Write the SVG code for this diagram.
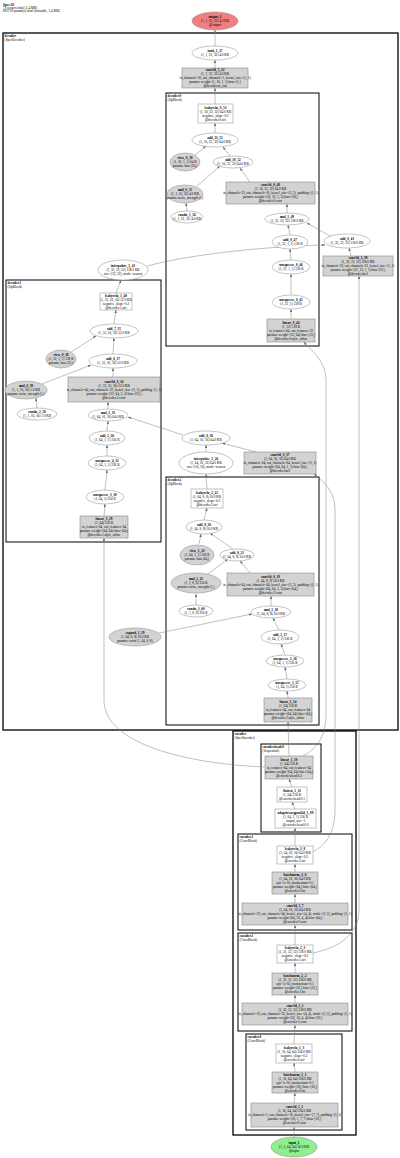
<svg xmlns="http://www.w3.org/2000/svg" width="400" height="1158" viewBox="0 0 400 1158">
<style>
.el{fill:#fff;stroke:#888;stroke-width:0.5}
.gel{fill:#d3d3d3;stroke:#888;stroke-width:0.5}
.bx{fill:#fff;stroke:#888;stroke-width:0.5}
.gbx{fill:#d3d3d3;stroke:#888;stroke-width:0.6}
.cl{fill:none;stroke:#000;stroke-width:1}
.clo{fill:none;stroke:#000;stroke-width:1.3}
.t{font-family:"Liberation Serif","DejaVu Serif",serif;font-size:3.4px;text-anchor:middle;fill:#000}
.l{font-family:"Liberation Serif","DejaVu Serif",serif;font-size:3.4px;text-anchor:start;fill:#000}
.b{font-weight:bold}
.e{fill:none;stroke:#808080;stroke-width:0.5;marker-end:url(#a)}
</style>
<defs>
<marker id="a" markerUnits="userSpaceOnUse" markerWidth="3" markerHeight="2.4" refX="3" refY="1.2" orient="auto">
<path d="M0,0 L3,1.2 L0,2.4 z" fill="#666"/>
</marker>
</defs>
<rect width="400" height="1158" fill="#fff"/>
<g id="title">
<text class="l" x="3" y="5.5"><tspan class="b">SpecAE</tspan><tspan x="3" dy="3.4">71 tensors total (1.4 MB)</tspan><tspan x="3" dy="3.4">895739 param(s) total (trainable, 3.4 MB)</tspan></text>
</g>
<g id="clusters">
<g id="cluster-decoder"><rect class="clo" x="3" y="33" width="395" height="697"/><text class="l" x="4.5" y="37"><tspan class="b">decoder</tspan><tspan x="4.5" dy="3.5">(SpecDecoder)</tspan></text></g>
<g id="cluster-decoder.0"><rect class="cl" x="166" y="93" width="153" height="253"/><text class="l" x="167.5" y="97"><tspan class="b">decoder.0</tspan><tspan x="167.5" dy="3.5">(UpBlock)</tspan></text></g>
<g id="cluster-decoder.1"><rect class="cl" x="6" y="280" width="155" height="262"/><text class="l" x="7.5" y="284"><tspan class="b">decoder.1</tspan><tspan x="7.5" dy="3.5">(UpBlock)</tspan></text></g>
<g id="cluster-decoder.2"><rect class="cl" x="166" y="477" width="153" height="248"/><text class="l" x="167.5" y="481"><tspan class="b">decoder.2</tspan><tspan x="167.5" dy="3.5">(UpBlock)</tspan></text></g>
<g id="cluster-encoder"><rect class="clo" x="233" y="731" width="123" height="404"/><text class="l" x="234.5" y="735"><tspan class="b">encoder</tspan><tspan x="234.5" dy="3.5">(SpecEncoder)</tspan></text></g>
<g id="cluster-encoder.head.0"><rect class="cl" x="261" y="744" width="60" height="88"/><text class="l" x="262.5" y="748"><tspan class="b">encoder.head.0</tspan><tspan x="262.5" dy="3.5">(Sequential)</tspan></text></g>
<g id="cluster-encoder.2"><rect class="cl" x="238" y="834" width="114" height="96"/><text class="l" x="239.5" y="838"><tspan class="b">encoder.2</tspan><tspan x="239.5" dy="3.5">(ConvBlock)</tspan></text></g>
<g id="cluster-encoder.1"><rect class="cl" x="238" y="933" width="114" height="98"/><text class="l" x="239.5" y="937"><tspan class="b">encoder.1</tspan><tspan x="239.5" dy="3.5">(ConvBlock)</tspan></text></g>
<g id="cluster-encoder.0"><rect class="cl" x="246" y="1034" width="96" height="96"/><text class="l" x="247.5" y="1038"><tspan class="b">encoder.0</tspan><tspan x="247.5" dy="3.5">(ConvBlock)</tspan></text></g>
</g>
<g id="connectors">
<path class="e" d="M294,1137 L294,1127"/>
<path class="e" d="M294,1103 L295,1093"/>
<path class="e" d="M295,1072 L294,1063"/>
<path class="e" d="M294,1044 L295,1025"/>
<path class="e" d="M295,1003 L295,995"/>
<path class="e" d="M295,973 L295,963"/>
<path class="e" d="M295,945 L295,925"/>
<path class="e" d="M295,903 L295,894"/>
<path class="e" d="M295,872 L295,864"/>
<path class="e" d="M295,846 L295,828"/>
<path class="e" d="M295,809 L292,802"/>
<path class="e" d="M292,787 L289,779"/>
<path class="e" d="M289,756 L288,722"/>
<path class="e" d="M303,756 C318,748 326,735 326,715 L326,380 C326,360 310,350 304,342"/>
<path class="e" d="M265,767 C190,764 104,745 104,700 L104,538"/>
<path class="e" d="M312,852 C326,846 335,832 335,810 L335,510 C335,490 322,480 314,474"/>
<path class="e" d="M313,953 C338,948 359,935 359,910 L359,276"/>
<path class="e" d="M288,698 L287,691"/>
<path class="e" d="M287,679 L285,667"/>
<path class="e" d="M285,655 L281,644"/>
<path class="e" d="M279,630 L273,618"/>
<path class="e" d="M159,633 L252,614"/>
<path class="e" d="M271,606 L271,596"/>
<path class="e" d="M250,573 L240,561"/>
<path class="e" d="M196,605 L196,594"/>
<path class="e" d="M208,574 L228,559"/>
<path class="e" d="M233,549 L210,533"/>
<path class="e" d="M199,544 L201,534"/>
<path class="e" d="M204,520 L207,508"/>
<path class="e" d="M207,489 L206,474"/>
<path class="e" d="M206,452 L206,445"/>
<path class="e" d="M256,452 L222,443"/>
<path class="e" d="M183,435 L128,417"/>
<path class="e" d="M104,516 L105,504"/>
<path class="e" d="M105,490 L107,470"/>
<path class="e" d="M107,456 L107,445"/>
<path class="e" d="M107,431 L108,421"/>
<path class="e" d="M108,409 L108,402"/>
<path class="e" d="M37,408 L36,398"/>
<path class="e" d="M113,377 L113,368"/>
<path class="e" d="M42,384 L91,365"/>
<path class="e" d="M113,354 L114,338"/>
<path class="e" d="M71,352 L96,336"/>
<path class="e" d="M114,324 L116,310"/>
<path class="e" d="M116,293 L121,280"/>
<path class="e" d="M147,266 C200,252 280,246 325,245"/>
<path class="e" d="M351,256 L349,248"/>
<path class="e" d="M330,236 L307,223"/>
<path class="e" d="M291,319 L291,309"/>
<path class="e" d="M291,295 L291,274"/>
<path class="e" d="M291,260 L290,249"/>
<path class="e" d="M290,235 L288,225"/>
<path class="e" d="M287,213 L287,204"/>
<path class="e" d="M250,182 L240,168"/>
<path class="e" d="M187,211 L186,203"/>
<path class="e" d="M197,186 L220,166"/>
<path class="e" d="M230,156 L223,147"/>
<path class="e" d="M195,155 L206,146"/>
<path class="e" d="M215,133 L215,123"/>
<path class="e" d="M215,104 L215,88"/>
<path class="e" d="M215,68 L215,60"/>
<path class="e" d="M215,46 L215,30"/>
</g>
<g id="node-output_1"><ellipse cx="215" cy="21" rx="23" ry="9" fill="#f08080" stroke="#888" stroke-width="0.5"/><text class="t" x="215" y="18.3"><tspan class="b">output_1</tspan><tspan x="215" dy="3.9">(1, 1, 32, 32) 4.0 KB</tspan><tspan x="215" dy="3.9">@output</tspan></text></g>
<g id="node-tanh_1_27"><ellipse class="el" cx="215" cy="53" rx="23" ry="7"/><text class="t" x="215" y="52.25"><tspan class="b">tanh_1_27</tspan><tspan x="215" dy="3.9">(1, 1, 32, 32) 4.0 KB</tspan></text></g>
<g id="node-conv3d_1_32"><rect class="gbx" x="182" y="68" width="66" height="20"/><text class="t" x="215" y="71.4"><tspan class="b">conv3d_1_32</tspan><tspan x="215" dy="3.9">(1, 1, 32, 32) 4.0 KB</tspan><tspan x="215" dy="3.9">in_channels=16, out_channels=1, kernel_size=(1, 1)</tspan><tspan x="215" dy="3.9">params: weight=(1, 16, 1, 1) bias=(1,)</tspan><tspan x="215" dy="3.9">@decoder.to_out</tspan></text></g>
<g id="node-leakyrelu_0_53"><rect class="bx" x="198" y="104" width="35" height="19"/><text class="t" x="215.5" y="108.85"><tspan class="b">leakyrelu_0_53</tspan><tspan x="215.5" dy="3.9">(1, 16, 32, 32) 64.0 KB</tspan><tspan x="215.5" dy="3.9">negative_slope=0.2</tspan><tspan x="215.5" dy="3.9">@decoder.0.act</tspan></text></g>
<g id="node-add_11_51"><ellipse class="el" cx="215" cy="140" rx="23" ry="7"/><text class="t" x="215" y="139.25"><tspan class="b">add_11_51</tspan><tspan x="215" dy="3.9">(1, 16, 32, 32) 64.0 KB</tspan></text></g>
<g id="node-view_0_50"><ellipse class="gel" cx="185" cy="162" rx="15" ry="9"/><text class="t" x="185" y="159.3"><tspan class="b">view_0_50</tspan><tspan x="185" dy="3.9">(1, 16, 1, 1) 64 B</tspan><tspan x="185" dy="3.9">params: bias (16,)</tspan></text></g>
<g id="node-add_10_52"><ellipse class="el" cx="233" cy="162" rx="20" ry="6"/><text class="t" x="233" y="161.25"><tspan class="b">add_10_52</tspan><tspan x="233" dy="3.9">(1, 16, 32, 32) 64.0 KB</tspan></text></g>
<g id="node-mul_0_55"><ellipse class="gel" cx="185" cy="194" rx="18" ry="9"/><text class="t" x="185" y="191.3"><tspan class="b">mul_0_55</tspan><tspan x="185" dy="3.9">(1, 1, 32, 32) 4.0 KB</tspan><tspan x="185" dy="3.9">params: noise_strength (1,)</tspan></text></g>
<g id="node-conv3d_0_48"><rect class="gbx" x="226" y="182" width="89" height="22"/><text class="t" x="270.5" y="186.4"><tspan class="b">conv3d_0_48</tspan><tspan x="270.5" dy="3.9">(1, 16, 32, 32) 64.0 KB</tspan><tspan x="270.5" dy="3.9">in_channels=32, out_channels=16, kernel_size=(3, 3), padding=(1, 1)</tspan><tspan x="270.5" dy="3.9">params: weight=(16, 32, 3, 3) bias=(16,)</tspan><tspan x="270.5" dy="3.9">@decoder.0.conv</tspan></text></g>
<g id="node-randn_1_56"><ellipse class="el" cx="187" cy="217" rx="16" ry="6"/><text class="t" x="187" y="216.25"><tspan class="b">randn_1_56</tspan><tspan x="187" dy="3.9">(1, 1, 32, 32) 4.0 KB</tspan></text></g>
<g id="node-mul_1_49"><ellipse class="el" cx="287" cy="219" rx="22" ry="6"/><text class="t" x="287" y="218.25"><tspan class="b">mul_1_49</tspan><tspan x="287" dy="3.9">(1, 32, 32, 32) 128.0 KB</tspan></text></g>
<g id="node-add_0_47"><ellipse class="el" cx="290" cy="242" rx="18" ry="7"/><text class="t" x="290" y="241.25"><tspan class="b">add_0_47</tspan><tspan x="290" dy="3.9">(1, 32, 1, 1) 128 B</tspan></text></g>
<g id="node-unsqueeze_0_46"><ellipse class="el" cx="291" cy="267" rx="19" ry="7"/><text class="t" x="291" y="266.25"><tspan class="b">unsqueeze_0_46</tspan><tspan x="291" dy="3.9">(1, 32, 1, 1) 128 B</tspan></text></g>
<g id="node-unsqueeze_0_45"><ellipse class="el" cx="291" cy="302" rx="19" ry="7"/><text class="t" x="291" y="301.25"><tspan class="b">unsqueeze_0_45</tspan><tspan x="291" dy="3.9">(1, 32, 1) 128 B</tspan></text></g>
<g id="node-linear_0_44"><rect class="gbx" x="267" y="319" width="48" height="23"/><text class="t" x="291" y="323.9"><tspan class="b">linear_0_44</tspan><tspan x="291" dy="3.9">(1, 32) 128 B</tspan><tspan x="291" dy="3.9">in_features=64, out_features=32</tspan><tspan x="291" dy="3.9">params: weight=(32, 64) bias=(32,)</tspan><tspan x="291" dy="3.9">@decoder.0.style_affine</tspan></text></g>
<g id="node-add_0_43"><ellipse class="el" cx="347" cy="241" rx="23" ry="7"/><text class="t" x="347" y="240.25"><tspan class="b">add_0_43</tspan><tspan x="347" dy="3.9">(1, 32, 32, 32) 128.0 KB</tspan></text></g>
<g id="node-conv3d_1_38"><rect class="gbx" x="323" y="256" width="70" height="20"/><text class="t" x="358" y="259.4"><tspan class="b">conv3d_1_38</tspan><tspan x="358" dy="3.9">(1, 32, 32, 32) 128.0 KB</tspan><tspan x="358" dy="3.9">in_channels=32, out_channels=32, kernel_size=(1, 1)</tspan><tspan x="358" dy="3.9">params: weight=(32, 32, 1, 1) bias=(32,)</tspan><tspan x="358" dy="3.9">@decoder.lat.1</tspan></text></g>
<g id="node-interpolate_1_41"><ellipse class="el" cx="123" cy="270" rx="25" ry="10"/><text class="t" x="123" y="267.3"><tspan class="b">interpolate_1_41</tspan><tspan x="123" dy="3.9">(1, 32, 32, 32) 128.0 KB</tspan><tspan x="123" dy="3.9">size=(32, 32), mode=nearest</tspan></text></g>
<g id="node-leakyrelu_1_40"><rect class="bx" x="100" y="293" width="32" height="17"/><text class="t" x="116" y="296.85"><tspan class="b">leakyrelu_1_40</tspan><tspan x="116" dy="3.9">(1, 32, 16, 16) 32.0 KB</tspan><tspan x="116" dy="3.9">negative_slope=0.2</tspan><tspan x="116" dy="3.9">@decoder.1.act</tspan></text></g>
<g id="node-add_7_35"><ellipse class="el" cx="114" cy="331" rx="24" ry="7"/><text class="t" x="114" y="330.25"><tspan class="b">add_7_35</tspan><tspan x="114" dy="3.9">(1, 32, 16, 16) 32.0 KB</tspan></text></g>
<g id="node-view_0_38"><ellipse class="gel" cx="61" cy="359" rx="15" ry="9"/><text class="t" x="61" y="356.3"><tspan class="b">view_0_38</tspan><tspan x="61" dy="3.9">(1, 32, 1, 1) 128 B</tspan><tspan x="61" dy="3.9">params: bias (32,)</tspan></text></g>
<g id="node-add_6_37"><ellipse class="el" cx="113" cy="361" rx="24" ry="7"/><text class="t" x="113" y="360.25"><tspan class="b">add_6_37</tspan><tspan x="113" dy="3.9">(1, 32, 16, 16) 32.0 KB</tspan></text></g>
<g id="node-mul_0_39"><ellipse class="gel" cx="26" cy="390" rx="21" ry="9"/><text class="t" x="26" y="387.3"><tspan class="b">mul_0_39</tspan><tspan x="26" dy="3.9">(1, 1, 16, 16) 1.0 KB</tspan><tspan x="26" dy="3.9">params: noise_strength (1,)</tspan></text></g>
<g id="node-conv3d_0_34"><rect class="gbx" x="68" y="377" width="92" height="25"/><text class="t" x="114" y="382.9"><tspan class="b">conv3d_0_34</tspan><tspan x="114" dy="3.9">(1, 32, 16, 16) 32.0 KB</tspan><tspan x="114" dy="3.9">in_channels=64, out_channels=32, kernel_size=(3, 3), padding=(1, 1)</tspan><tspan x="114" dy="3.9">params: weight=(32, 64, 3, 3) bias=(32,)</tspan><tspan x="114" dy="3.9">@decoder.1.conv</tspan></text></g>
<g id="node-randn_2_58"><ellipse class="el" cx="37" cy="414" rx="20" ry="6"/><text class="t" x="37" y="413.25"><tspan class="b">randn_2_58</tspan><tspan x="37" dy="3.9">(1, 1, 16, 16) 1.0 KB</tspan></text></g>
<g id="node-mul_1_33"><ellipse class="el" cx="108" cy="415" rx="20" ry="6"/><text class="t" x="108" y="414.25"><tspan class="b">mul_1_33</tspan><tspan x="108" dy="3.9">(1, 64, 16, 16) 64.0 KB</tspan></text></g>
<g id="node-add_5_36"><ellipse class="el" cx="107" cy="438" rx="18" ry="7"/><text class="t" x="107" y="437.25"><tspan class="b">add_5_36</tspan><tspan x="107" dy="3.9">(1, 64, 1, 1) 256 B</tspan></text></g>
<g id="node-unsqueeze_4_31"><ellipse class="el" cx="107" cy="463" rx="19" ry="7"/><text class="t" x="107" y="462.25"><tspan class="b">unsqueeze_4_31</tspan><tspan x="107" dy="3.9">(1, 64, 1, 1) 256 B</tspan></text></g>
<g id="node-unsqueeze_3_30"><ellipse class="el" cx="105" cy="497" rx="19" ry="7"/><text class="t" x="105" y="496.25"><tspan class="b">unsqueeze_3_30</tspan><tspan x="105" dy="3.9">(1, 64, 1) 256 B</tspan></text></g>
<g id="node-linear_3_29"><rect class="gbx" x="80" y="516" width="48" height="22"/><text class="t" x="104" y="520.4"><tspan class="b">linear_3_29</tspan><tspan x="104" dy="3.9">(1, 64) 256 B</tspan><tspan x="104" dy="3.9">in_features=64, out_features=64</tspan><tspan x="104" dy="3.9">params: weight=(64, 64) bias=(64,)</tspan><tspan x="104" dy="3.9">@decoder.1.style_affine</tspan></text></g>
<g id="node-add_0_36"><ellipse class="el" cx="206" cy="438" rx="24" ry="7"/><text class="t" x="206" y="437.25"><tspan class="b">add_0_36</tspan><tspan x="206" dy="3.9">(1, 64, 16, 16) 64.0 KB</tspan></text></g>
<g id="node-conv3d_0_37"><rect class="gbx" x="244" y="452" width="72" height="22"/><text class="t" x="280" y="456.4"><tspan class="b">conv3d_0_37</tspan><tspan x="280" dy="3.9">(1, 64, 16, 16) 64.0 KB</tspan><tspan x="280" dy="3.9">in_channels=64, out_channels=64, kernel_size=(1, 1)</tspan><tspan x="280" dy="3.9">params: weight=(64, 64, 1, 1) bias=(64,)</tspan><tspan x="280" dy="3.9">@decoder.lat.0</tspan></text></g>
<g id="node-interpolate_1_26"><ellipse class="el" cx="206" cy="463" rx="27" ry="11"/><text class="t" x="206" y="460.3"><tspan class="b">interpolate_1_26</tspan><tspan x="206" dy="3.9">(1, 64, 16, 16) 64.0 KB</tspan><tspan x="206" dy="3.9">size=(16, 16), mode=nearest</tspan></text></g>
<g id="node-leakyrelu_2_22"><rect class="bx" x="191" y="489" width="32" height="19"/><text class="t" x="207" y="493.85"><tspan class="b">leakyrelu_2_22</tspan><tspan x="207" dy="3.9">(1, 64, 8, 8) 16.0 KB</tspan><tspan x="207" dy="3.9">negative_slope=0.2</tspan><tspan x="207" dy="3.9">@decoder.2.act</tspan></text></g>
<g id="node-add_9_20"><ellipse class="el" cx="204" cy="527" rx="18" ry="7"/><text class="t" x="204" y="526.25"><tspan class="b">add_9_20</tspan><tspan x="204" dy="3.9">(1, 64, 8, 8) 16.0 KB</tspan></text></g>
<g id="node-view_1_23"><ellipse class="gel" cx="197" cy="555" rx="17" ry="10"/><text class="t" x="197" y="552.3"><tspan class="b">view_1_23</tspan><tspan x="197" dy="3.9">(1, 64, 1, 1) 256 B</tspan><tspan x="197" dy="3.9">params: bias (64,)</tspan></text></g>
<g id="node-add_8_21"><ellipse class="el" cx="237" cy="555" rx="17" ry="6"/><text class="t" x="237" y="554.25"><tspan class="b">add_8_21</tspan><tspan x="237" dy="3.9">(1, 64, 8, 8) 16.0 KB</tspan></text></g>
<g id="node-mul_2_21"><ellipse class="gel" cx="196" cy="583" rx="25" ry="10"/><text class="t" x="196" y="580.3"><tspan class="b">mul_2_21</tspan><tspan x="196" dy="3.9">(1, 1, 8, 8) 256 B</tspan><tspan x="196" dy="3.9">params: noise_strength (1,)</tspan></text></g>
<g id="node-conv3d_0_19"><rect class="gbx" x="227" y="573" width="87" height="23"/><text class="t" x="270.5" y="577.9"><tspan class="b">conv3d_0_19</tspan><tspan x="270.5" dy="3.9">(1, 64, 8, 8) 16.0 KB</tspan><tspan x="270.5" dy="3.9">in_channels=64, out_channels=64, kernel_size=(3, 3), padding=(1, 1)</tspan><tspan x="270.5" dy="3.9">params: weight=(64, 64, 3, 3) bias=(64,)</tspan><tspan x="270.5" dy="3.9">@decoder.2.conv</tspan></text></g>
<g id="node-randn_1_60"><ellipse class="el" cx="196" cy="611" rx="17" ry="6"/><text class="t" x="196" y="610.25"><tspan class="b">randn_1_60</tspan><tspan x="196" dy="3.9">(1, 1, 8, 8) 256 B</tspan></text></g>
<g id="node-mul_1_18"><ellipse class="el" cx="271" cy="612" rx="20" ry="6"/><text class="t" x="271" y="611.25"><tspan class="b">mul_1_18</tspan><tspan x="271" dy="3.9">(1, 64, 8, 8) 16.0 KB</tspan></text></g>
<g id="node-expand_1_19"><ellipse class="gel" cx="135" cy="637" rx="26" ry="9"/><text class="t" x="135" y="634.3"><tspan class="b">expand_1_19</tspan><tspan x="135" dy="3.9">(1, 64, 8, 8) 16.0 KB</tspan><tspan x="135" dy="3.9">params: const (1, 64, 8, 8)</tspan></text></g>
<g id="node-add_1_17"><ellipse class="el" cx="280" cy="637" rx="19" ry="7"/><text class="t" x="280" y="636.25"><tspan class="b">add_1_17</tspan><tspan x="280" dy="3.9">(1, 64, 1, 1) 256 B</tspan></text></g>
<g id="node-unsqueeze_1_16"><ellipse class="el" cx="285" cy="661" rx="19" ry="6"/><text class="t" x="285" y="660.25"><tspan class="b">unsqueeze_1_16</tspan><tspan x="285" dy="3.9">(1, 64, 1, 1) 256 B</tspan></text></g>
<g id="node-unsqueeze_1_15"><ellipse class="el" cx="287" cy="685" rx="19" ry="6"/><text class="t" x="287" y="684.25"><tspan class="b">unsqueeze_1_15</tspan><tspan x="287" dy="3.9">(1, 64, 1) 256 B</tspan></text></g>
<g id="node-linear_1_14"><rect class="gbx" x="264" y="698" width="48" height="24"/><text class="t" x="288" y="703.4"><tspan class="b">linear_1_14</tspan><tspan x="288" dy="3.9">(1, 64) 256 B</tspan><tspan x="288" dy="3.9">in_features=64, out_features=64</tspan><tspan x="288" dy="3.9">params: weight=(64, 64) bias=(64,)</tspan><tspan x="288" dy="3.9">@decoder.2.style_affine</tspan></text></g>
<g id="node-linear_1_10"><rect class="gbx" x="265" y="756" width="48" height="23"/><text class="t" x="289" y="760.9"><tspan class="b">linear_1_10</tspan><tspan x="289" dy="3.9">(1, 64) 256 B</tspan><tspan x="289" dy="3.9">in_features=64, out_features=64</tspan><tspan x="289" dy="3.9">params: weight=(64, 64) bias=(64,)</tspan><tspan x="289" dy="3.9">@encoder.head.0.2</tspan></text></g>
<g id="node-flatten_1_11"><rect class="bx" x="277" y="787" width="30" height="15"/><text class="t" x="292" y="791.8"><tspan class="b">flatten_1_11</tspan><tspan x="292" dy="3.9">(1, 64) 256 B</tspan><tspan x="292" dy="3.9">@encoder.head.0.1</tspan></text></g>
<g id="node-adaptiveavgpool2d_1_09"><rect class="bx" x="275" y="809" width="41" height="19"/><text class="t" x="295.5" y="813.85"><tspan class="b">adaptiveavgpool2d_1_09</tspan><tspan x="295.5" dy="3.9">(1, 64, 1, 1) 256 B</tspan><tspan x="295.5" dy="3.9">output_size=1</tspan><tspan x="295.5" dy="3.9">@encoder.head.0.0</tspan></text></g>
<g id="node-leakyrelu_3_8"><rect class="bx" x="277" y="846" width="36" height="18"/><text class="t" x="295" y="850.35"><tspan class="b">leakyrelu_3_8</tspan><tspan x="295" dy="3.9">(1, 64, 16, 16) 64.0 KB</tspan><tspan x="295" dy="3.9">negative_slope=0.2</tspan><tspan x="295" dy="3.9">@encoder.2.act</tspan></text></g>
<g id="node-batchnorm_3_6"><rect class="gbx" x="272" y="872" width="46" height="22"/><text class="t" x="295" y="876.4"><tspan class="b">batchnorm_3_6</tspan><tspan x="295" dy="3.9">(1, 64, 16, 16) 64.0 KB</tspan><tspan x="295" dy="3.9">eps=1e-05, momentum=0.1</tspan><tspan x="295" dy="3.9">params: weight=(64,) bias=(64,)</tspan><tspan x="295" dy="3.9">@encoder.2.bn</tspan></text></g>
<g id="node-conv3d_3_7"><rect class="gbx" x="242" y="903" width="106" height="22"/><text class="t" x="295" y="907.4"><tspan class="b">conv3d_3_7</tspan><tspan x="295" dy="3.9">(1, 64, 16, 16) 64.0 KB</tspan><tspan x="295" dy="3.9">in_channels=32, out_channels=64, kernel_size=(4, 4), stride=(2, 2), padding=(1, 1)</tspan><tspan x="295" dy="3.9">params: weight=(64, 32, 4, 4) bias=(64,)</tspan><tspan x="295" dy="3.9">@encoder.2.conv</tspan></text></g>
<g id="node-leakyrelu_2_3"><rect class="bx" x="277" y="945" width="36" height="18"/><text class="t" x="295" y="949.35"><tspan class="b">leakyrelu_2_3</tspan><tspan x="295" dy="3.9">(1, 32, 32, 32) 128.0 KB</tspan><tspan x="295" dy="3.9">negative_slope=0.2</tspan><tspan x="295" dy="3.9">@encoder.1.act</tspan></text></g>
<g id="node-batchnorm_2_2"><rect class="gbx" x="272" y="973" width="46" height="22"/><text class="t" x="295" y="977.4"><tspan class="b">batchnorm_2_2</tspan><tspan x="295" dy="3.9">(1, 32, 32, 32) 128.0 KB</tspan><tspan x="295" dy="3.9">eps=1e-05, momentum=0.1</tspan><tspan x="295" dy="3.9">params: weight=(32,) bias=(32,)</tspan><tspan x="295" dy="3.9">@encoder.1.bn</tspan></text></g>
<g id="node-conv3d_2_1"><rect class="gbx" x="242" y="1003" width="106" height="22"/><text class="t" x="295" y="1007.4"><tspan class="b">conv3d_2_1</tspan><tspan x="295" dy="3.9">(1, 32, 32, 32) 128.0 KB</tspan><tspan x="295" dy="3.9">in_channels=16, out_channels=32, kernel_size=(4, 4), stride=(2, 2), padding=(1, 1)</tspan><tspan x="295" dy="3.9">params: weight=(32, 16, 4, 4) bias=(32,)</tspan><tspan x="295" dy="3.9">@encoder.1.conv</tspan></text></g>
<g id="node-leakyrelu_1_3"><rect class="bx" x="276" y="1044" width="36" height="19"/><text class="t" x="294" y="1048.85"><tspan class="b">leakyrelu_1_3</tspan><tspan x="294" dy="3.9">(1, 16, 64, 64) 256.0 KB</tspan><tspan x="294" dy="3.9">negative_slope=0.2</tspan><tspan x="294" dy="3.9">@encoder.0.act</tspan></text></g>
<g id="node-batchnorm_1_1"><rect class="gbx" x="272" y="1072" width="46" height="21"/><text class="t" x="295" y="1075.9"><tspan class="b">batchnorm_1_1</tspan><tspan x="295" dy="3.9">(1, 16, 64, 64) 256.0 KB</tspan><tspan x="295" dy="3.9">eps=1e-05, momentum=0.1</tspan><tspan x="295" dy="3.9">params: weight=(16,) bias=(16,)</tspan><tspan x="295" dy="3.9">@encoder.0.bn</tspan></text></g>
<g id="node-conv3d_1_1"><rect class="gbx" x="251" y="1103" width="87" height="24"/><text class="t" x="294.5" y="1108.4"><tspan class="b">conv3d_1_1</tspan><tspan x="294.5" dy="3.9">(1, 16, 64, 64) 256.0 KB</tspan><tspan x="294.5" dy="3.9">in_channels=1, out_channels=16, kernel_size=(7, 7), padding=(3, 3)</tspan><tspan x="294.5" dy="3.9">params: weight=(16, 1, 7, 7) bias=(16,)</tspan><tspan x="294.5" dy="3.9">@encoder.0.conv</tspan></text></g>
<g id="node-input_1"><ellipse cx="294" cy="1147" rx="23" ry="10" fill="#90ee90" stroke="#888" stroke-width="0.5"/><text class="t" x="294" y="1144.3"><tspan class="b">input_1</tspan><tspan x="294" dy="3.9">(1, 1, 64, 64) 16.0 KB</tspan><tspan x="294" dy="3.9">@input</tspan></text></g>
</svg>
